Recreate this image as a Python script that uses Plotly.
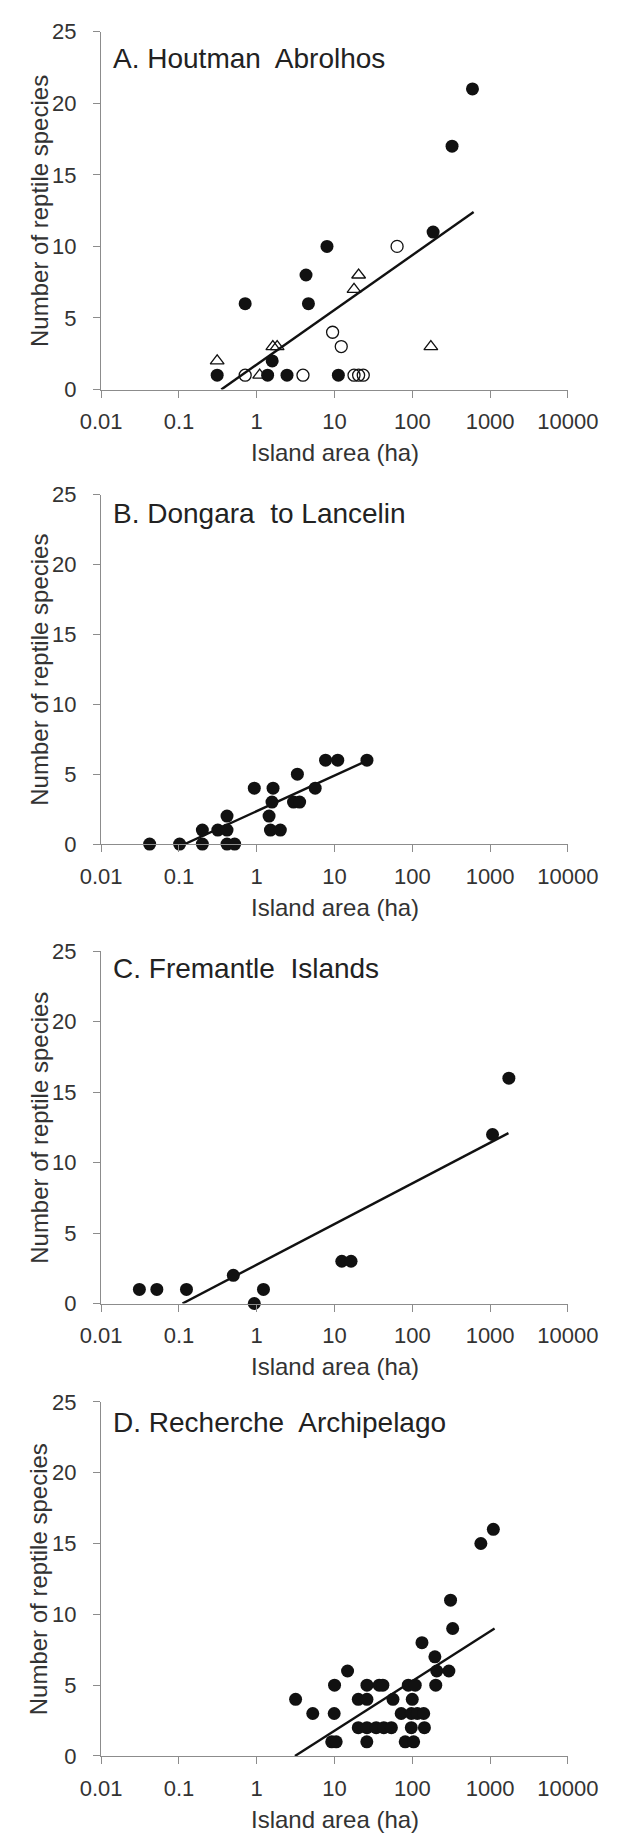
import plotly.graph_objects as go

# ---------------- data ----------------
panel_titles = ["A. Houtman\u00a0 Abrolhos", "B. Dongara\u00a0 to Lancelin",
                "C. Fremantle\u00a0 Islands", "D. Recherche\u00a0 Archipelago"]
x_tickvals = [0.01, 0.1, 1, 10, 100, 1000, 10000]
x_ticktext = ["0.01", "0.1", "1", "10", "100", "1000", "10000"]
y_tickvals = [0, 5, 10, 15, 20, 25]

A_filled_x = [0.31, 0.71, 1.38, 1.58, 2.45, 4.3, 4.62, 8.0, 11.2, 185, 324, 593]
A_filled_y = [1, 6, 1, 2, 1, 8, 6, 10, 1, 11, 17, 21]
A_open_x = [0.71, 3.93, 9.44, 12.2, 17.8, 20.4, 23.4, 63.7]
A_open_y = [1, 1, 4, 3, 1, 1, 1, 10]
A_tri_x = [0.31, 1.09, 1.61, 1.83, 17.8, 20.4, 173]
A_tri_y = [2, 1, 3, 3, 7, 8, 3]
A_fit_x = [0.35, 614]
A_fit_y = [0, 12.4]

B_x = [0.042, 0.102, 0.2, 0.2, 0.316, 0.415, 0.415, 0.415, 0.52, 0.93, 1.44,
       1.57, 1.62, 1.5, 2.01, 2.97, 3.56, 3.33, 5.64, 7.67, 11.0, 26.1]
B_y = [0, 0, 1, 0, 1, 2, 1, 0, 0, 4, 2, 3, 4, 1, 1, 3, 3, 5, 4, 6, 6, 6]
B_fit_x = [0.119, 27]
B_fit_y = [0, 6.0]

C_x = [0.031, 0.052, 0.125, 0.50, 0.93, 1.22, 12.4, 16.3, 1074, 1742]
C_y = [1, 1, 1, 2, 0, 1, 3, 3, 12, 16]
C_fit_x = [0.111, 1720]
C_fit_y = [0, 12.1]

D_x = [3.16, 5.25, 9.9, 10, 9.2, 10.5, 14.7, 20.2, 26.1, 20.2, 26.1, 34.3, 43,
       53.8, 26, 26.1, 37.5, 41.8, 56.4, 71.9, 81, 104, 88.7, 109, 99.8, 97,
       116, 140, 97, 143, 133, 195, 200, 206, 295, 310, 330, 760, 1100]
D_y = [4, 3, 3, 5, 1, 1, 6, 4, 4, 2, 2, 2, 2,
       2, 1, 5, 5, 5, 4, 3, 1, 1, 5, 5, 4, 3,
       3, 3, 2, 2, 8, 7, 5, 6, 6, 11, 9, 15, 16]
D_fit_x = [3.1, 1140]
D_fit_y = [0, 9.0]

# ---------------- layout helpers ----------------
W, H = 635, 1840
x_left, x_right = 87.3, 595.7
# (top pixel of y=25, bottom pixel of y=0, title centre y)
panels_px = [(20.0, 382.7, 47), (489.3, 843.5, 508), (952.3, 1309.3, 970), (1409.0, 1768.0, 1430)]

FONT = "Liberation Sans, Arial, sans-serif"
TXT = "#333333"
AXC = "#8c8c8c"

fig = go.Figure()

def add_pts(i, x, y, symbol, size, filled=True):
    ax = "" if i == 0 else str(i + 1)
    marker = dict(symbol=symbol, size=size, color="#111111")
    if not filled:
        marker = dict(symbol=symbol, size=size, color="#111111", line=dict(width=1.3, color="#111111"))
    fig.add_trace(go.Scatter(x=x, y=y, mode="markers", marker=marker,
                             xaxis="x" + ax, yaxis="y" + ax, cliponaxis=False,
                             showlegend=False, hoverinfo="skip"))

def add_fit(i, x, y):
    ax = "" if i == 0 else str(i + 1)
    fig.add_trace(go.Scatter(x=x, y=y, mode="lines", line=dict(color="#111111", width=2.4),
                             xaxis="x" + ax, yaxis="y" + ax, showlegend=False, hoverinfo="skip"))

add_fit(0, A_fit_x, A_fit_y)
add_pts(0, A_tri_x, A_tri_y, "triangle-up-open", 12, filled=False)
add_pts(0, A_open_x, A_open_y, "circle-open", 12, filled=False)
add_pts(0, A_filled_x, A_filled_y, "circle", 13)
add_fit(1, B_fit_x, B_fit_y)
add_pts(1, B_x, B_y, "circle", 13)
add_fit(2, C_fit_x, C_fit_y)
add_pts(2, C_x, C_y, "circle", 13)
add_fit(3, D_fit_x, D_fit_y)
add_pts(3, D_x, D_y, "circle", 13)

layout = dict(width=W, height=H, margin=dict(l=0, r=0, t=0, b=0),
              paper_bgcolor="white", plot_bgcolor="white",
              font=dict(family=FONT, color=TXT), annotations=[])

for i, (top, bot, ty) in enumerate(panels_px):
    ax = "" if i == 0 else str(i + 1)
    layout["xaxis" + ax] = dict(
        type="log", range=[-2, 4], domain=[x_left / W, x_right / W],
        anchor="y" + ax, tickvals=x_tickvals, ticktext=x_ticktext,
        ticks="outside", ticklen=7, tickcolor=AXC, tickwidth=1.3,
        showline=True, linecolor=AXC, linewidth=1.3, showgrid=False, zeroline=False,
        tickfont=dict(size=22, color=TXT, family=FONT), ticklabelstandoff=5)
    layout["yaxis" + ax] = dict(
        range=[0, 25], domain=[1 - bot / H, 1 - top / H], anchor="x" + ax,
        tickvals=y_tickvals, ticks="outside", ticklen=7, tickcolor=AXC, tickwidth=1.3,
        showline=True, linecolor=AXC, linewidth=1.3, showgrid=False, zeroline=False,
        tickfont=dict(size=22, color=TXT, family=FONT), ticklabelstandoff=12)
    # panel title
    layout["annotations"].append(dict(
        text=panel_titles[i], x=98 / W, y=1 - ty / H, xref="paper", yref="paper",
        xanchor="left", yanchor="middle", showarrow=False,
        font=dict(size=28, color="#222222", family=FONT)))
    # x title
    layout["annotations"].append(dict(
        text="Island area (ha)", x=(x_left + x_right) / 2 / W, y=1 - (bot + 64) / H,
        xref="paper", yref="paper", xanchor="center", yanchor="middle", showarrow=False,
        font=dict(size=24, color=TXT, family=FONT)))
    # y title
    layout["annotations"].append(dict(
        text="Number of reptile species", x=20 / W, y=1 - (top + bot) / 2 / H,
        xref="paper", yref="paper", xanchor="center", yanchor="middle", showarrow=False,
        textangle=-90, font=dict(size=24, color=TXT, family=FONT)))

fig.update_layout(**layout)
fig.write_html("out.html")
